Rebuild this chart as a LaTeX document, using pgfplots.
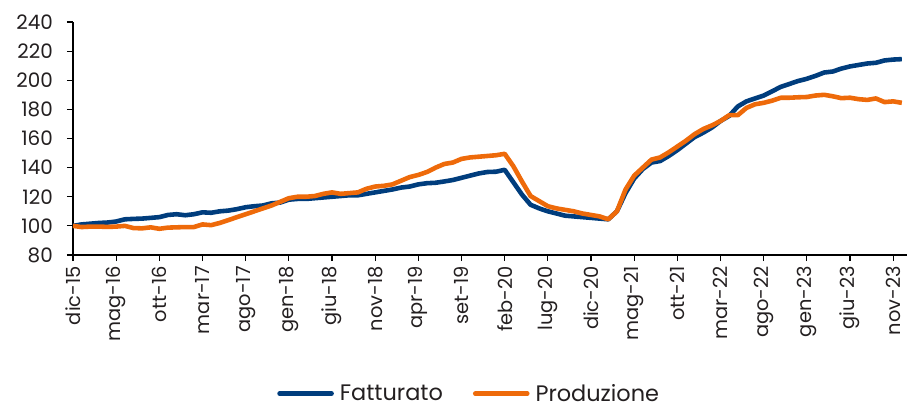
\documentclass[border=0pt]{standalone}
\usepackage{fontspec}
\setmainfont{Poppins}
\usepackage{pgfplots}
\usepackage{pgfplotstable}
\pgfplotsset{compat=1.18}
\definecolor{fatc}{RGB}{0,61,125}
\definecolor{proc}{RGB}{238,106,10}
\definecolor{txt}{RGB}{35,31,32}
\pgfplotstableread{
i fat prod
0 100 100
1 101 99.2
2 101.5 99.5
3 102 99.5
4 102.3 99.3
5 103 99.5
6 104.5 100
7 104.8 98.5
8 105 98.3
9 105.5 99
10 106 98
11 107.5 98.8
12 108 99
13 107.3 99.2
14 108 99.2
15 109.3 101
16 109 100.5
17 110 102
18 110.5 104
19 111.5 106
20 112.8 108
21 113.5 110
22 114 112
23 115.5 114
24 116 116.5
25 118 119
26 118.5 120
27 118.5 120
28 119 120.5
29 119.5 122
30 120 123
31 120.5 122
32 121 122.5
33 121 123
34 122 125.5
35 123 127
36 124 127.5
37 125 128.5
38 126.3 131
39 127 133.5
40 128.5 135
41 129.3 137
42 129.6 140
43 130.5 142.5
44 131.5 143.5
45 133 146
46 134.5 147
47 136 147.5
48 137 148
49 137.2 148.5
50 138.5 149.5
51 130 141
52 121.5 130.5
53 114.5 120.5
54 112 117
55 110 113.5
56 108.5 112
57 107 111
58 106.5 110
59 106 108.5
60 105.5 107.5
61 105 106.5
62 104.5 104.5
63 110 110
64 122.5 125
65 132.5 134.5
66 139 140
67 143.5 145.5
68 144.5 147
69 148 150.5
70 152 154.5
71 156.5 158.5
72 161 163
73 164 166.5
74 167.5 169
75 172 172
76 175.5 176
77 182 176
78 185.5 181
79 187.5 183.5
80 189.5 184.5
81 192.5 186
82 195.5 188
83 197.5 188
84 199.5 188.3
85 201 188.5
86 203 189.5
87 205.3 190
88 206 189
89 208 187.7
90 209.5 188
91 210.5 187
92 211.5 186.5
93 212 187.5
94 213.6 185
95 214.2 185.5
96 214.5 184.5
}\data
\begin{document}
\begin{tikzpicture}
\begin{axis}[
  at={(0,0)}, anchor=south west,
  scale only axis,
  width=834bp, height=233bp,
  xmin=0, xmax=96.6,
  ymin=80, ymax=240,
  ytick={80,100,...,240},
  xtick={0,5,...,95},
  xticklabels={dic-15,mag-16,ott-16,mar-17,ago-17,gen-18,giu-18,nov-18,apr-19,set-19,feb-20,lug-20,dic-20,mag-21,ott-21,mar-22,ago-22,gen-23,giu-23,nov-23},
  x tick label style={rotate=90, anchor=east, font=\fontsize{19.5}{21}\selectfont, text=txt, inner xsep=2bp},
  y tick label style={font=\fontsize{20}{22}\selectfont, text=txt, inner xsep=2bp},
  /pgf/number format/assume math mode=true,
  axis x line*=bottom, axis y line*=left,
  axis line style={black, line width=1.3pt, -},
  tick style={black, line width=1.2pt},
  tick align=outside,
  major tick length=6bp,
  xticklabel shift=3bp,
  yticklabel shift=12bp,
  clip=false,
  legend columns=2,
  legend style={at={(0.475,-0.595)}, anchor=center, draw=none, fill=none,
    font=\fontsize{22.5}{24}\selectfont, text=txt, inner sep=0pt,
    /tikz/every odd column/.append style={column sep=4bp},
    /tikz/every even column/.append style={column sep=28bp}},
  legend image code/.code={\draw[#1, line cap=round] (0bp,0bp) -- (52bp,0bp);},
]
\addplot[fatc, line width=4.6pt, line join=round] table[x=i, y=fat] {\data};
\addlegendentry{Fatturato}
\addplot[proc, line width=4.6pt, line join=round] table[x=i, y=prod] {\data};
\addlegendentry{Produzione}
\end{axis}
\pgfresetboundingbox
\path (-73bp,-154bp) rectangle (834bp,255bp);
\end{tikzpicture}
\end{document}
